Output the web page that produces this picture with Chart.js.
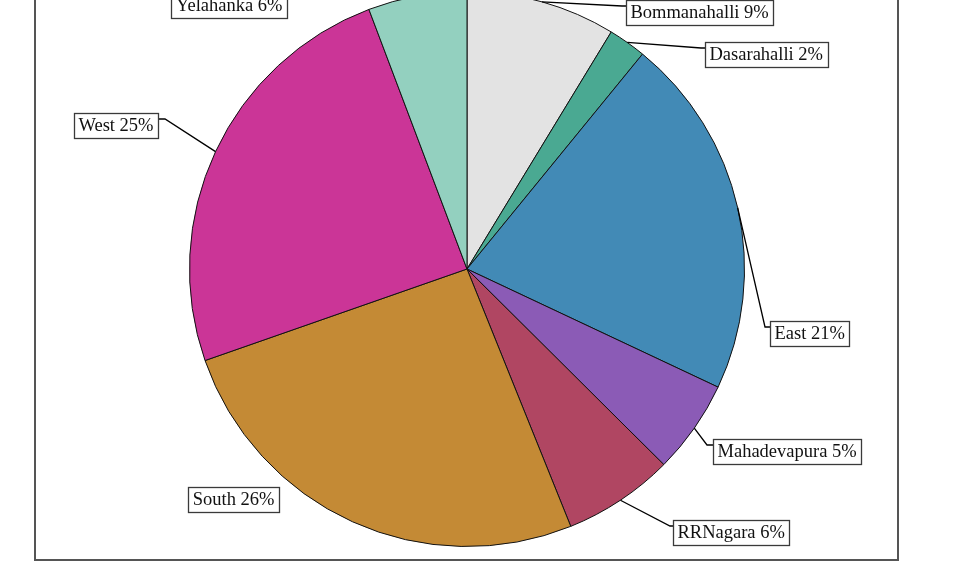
<!DOCTYPE html>
<html>
<head>
<meta charset="utf-8">
<script src="https://cdn.jsdelivr.net/npm/chart.js@4.4.1/dist/chart.umd.min.js"></script>
<style>
  html, body { margin: 0; padding: 0; background: #fff; overflow: hidden; }
  #wrap { position: relative; width: 954px; height: 573px; overflow: hidden; }
  #frame { position: absolute; left: 34px; top: -10px; width: 865px; height: 571px; box-sizing: border-box; border: 2px solid #555; }
  #c { position: absolute; left: 0; top: -20px; }
</style>
</head>
<body>
<div id="wrap">
  <div id="frame"></div>
  <canvas id="c" width="954" height="593"></canvas>
</div>
<script>
const categories = ["Bommanahalli", "Dasarahalli", "East", "Mahadevapura", "RRNagara", "South", "West", "Yelahanka"];
const shares = [8.7, 2.2, 21.1, 5.45, 6.45, 25.75, 24.6, 5.75];
const sliceColors = ["#e3e3e3", "#4aa992", "#428ab6", "#8b5bb6", "#b04662", "#c48a35", "#cb3597", "#93d0bf"];

// label connection point offsets from pie centre (px), elbow gap, whether a leader is drawn
const labelLayout = [
  { off: [159, -263], gap: 4, line: true },
  { off: [238, -221], gap: 4, line: true },
  { off: [303, 58], gap: 5, line: true },
  { off: [246, 176], gap: 6, line: true },
  { off: [206, 257], gap: 3, line: true },
  { off: [-188, 224], gap: 0, line: false },
  { off: [-309, -150], gap: 7, line: true },
  { off: [-180, -270], gap: 4, line: true }
];

const labelPlugin = {
  id: 'pieLabels',
  afterDatasetsDraw(chart) {
    const ctx = chart.ctx;
    const meta = chart.getDatasetMeta(0);
    const data = chart.data.datasets[0].data;
    const total = data.reduce((a, b) => a + b, 0);
    ctx.save();
    ctx.font = '18.5px "Liberation Serif", "Times New Roman", serif';
    meta.data.forEach((arc, i) => {
      const p = arc.getProps(['x', 'y', 'startAngle', 'endAngle', 'outerRadius'], true);
      const mid = (p.startAngle + p.endAngle) / 2;
      const ex = p.x + Math.cos(mid) * p.outerRadius;
      const ey = p.y + Math.sin(mid) * p.outerRadius;
      const lay = labelLayout[i];
      const cx = p.x + lay.off[0];
      const cy = p.y + lay.off[1];
      const right = lay.off[0] > 0;
      const text = chart.data.labels[i] + ' ' + Math.round(data[i] / total * 100) + '%';
      const tw = ctx.measureText(text).width;
      const bw = tw + 9;
      const bh = 25;
      const bx = right ? cx : cx - bw;
      const by = cy - 6.5;
      if (lay.line) {
        const elx = right ? cx - lay.gap : cx + lay.gap;
        ctx.beginPath();
        ctx.moveTo(ex, ey);
        ctx.lineTo(elx, cy);
        ctx.lineTo(cx, cy);
        ctx.strokeStyle = '#000';
        ctx.lineWidth = 1.3;
        ctx.stroke();
      }
      ctx.fillStyle = '#fff';
      ctx.fillRect(bx, by, bw, bh);
      ctx.strokeStyle = '#3a3a3a';
      ctx.lineWidth = 1.3;
      ctx.strokeRect(Math.round(bx) + 0.5, Math.round(by) + 0.5, Math.round(bw), bh);
      ctx.fillStyle = '#111';
      ctx.textBaseline = 'middle';
      ctx.textAlign = 'left';
      ctx.fillText(text, bx + 4.5, by + bh / 2 + 1);
    });
    ctx.restore();
  }
};

new Chart(document.getElementById('c'), {
  type: 'pie',
  data: {
    labels: categories,
    datasets: [{
      data: shares,
      backgroundColor: sliceColors,
      borderColor: '#111',
      borderWidth: 1,
      hoverOffset: 0
    }]
  },
  options: {
    responsive: false,
    animation: false,
    devicePixelRatio: 1,
    layout: { padding: { left: 189, right: 209, top: 11, bottom: 26 } },
    plugins: {
      legend: { display: false },
      tooltip: { enabled: false }
    }
  },
  plugins: [labelPlugin]
});
</script>
</body>
</html>
